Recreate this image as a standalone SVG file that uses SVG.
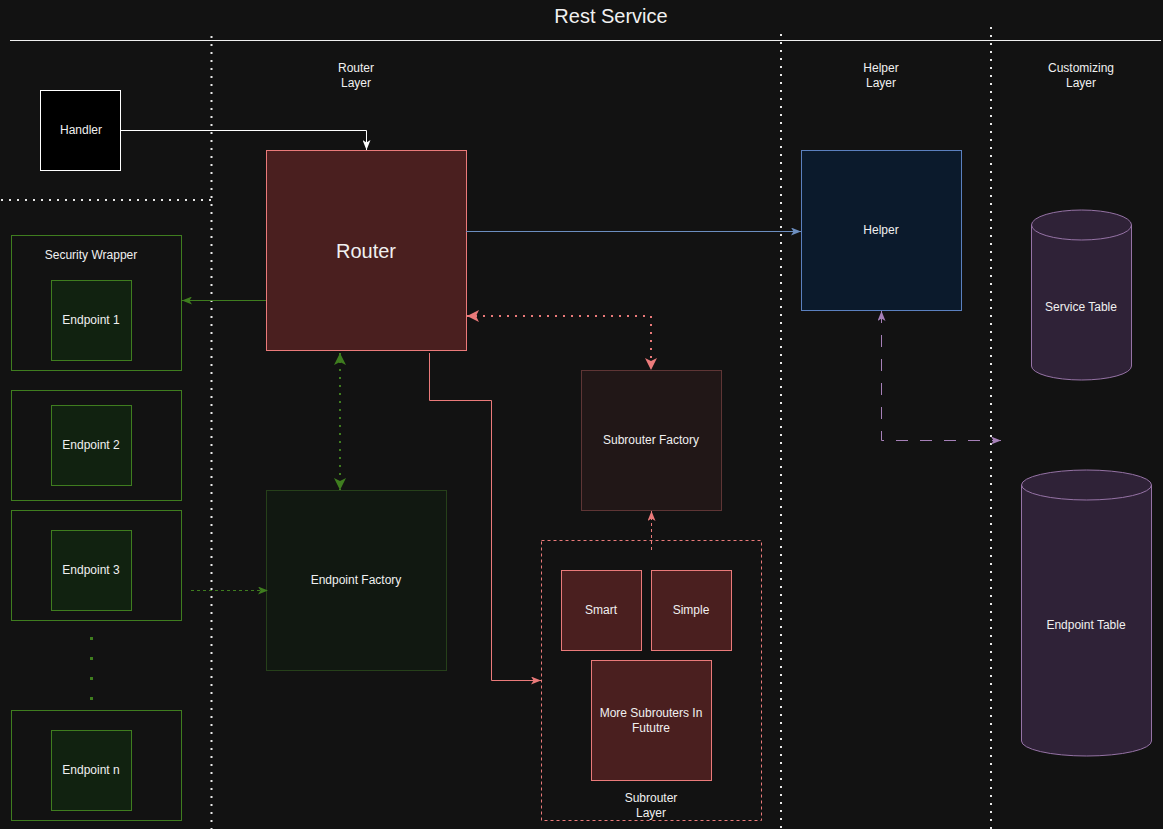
<svg xmlns="http://www.w3.org/2000/svg" width="1163" height="829" viewBox="0 0 1163 829">
<defs>
<style>
text{font-family:"Liberation Sans",Arial,sans-serif;font-size:12px;fill:#f0f0f0;text-anchor:middle;dominant-baseline:central}
.sep{stroke:#e8e8e8;stroke-width:2;stroke-dasharray:2 6;fill:none}
.wrap{fill:none;stroke:#3f7d1f}
.ep{fill:#112210;stroke:#3f7d1f}
.sub{fill:#4a1f1f;stroke:#ea7a7a}
.conn{fill:none}
</style>
<marker id="aw" viewBox="0 0 10 8" refX="10" refY="4" markerWidth="10" markerHeight="8" markerUnits="userSpaceOnUse" orient="auto-start-reverse"><path d="M0,0 L10,4 L0,8 L2.5,4 z" fill="#ffffff"/></marker>
<marker id="ab" viewBox="0 0 10 8" refX="10" refY="4" markerWidth="10" markerHeight="8" markerUnits="userSpaceOnUse" orient="auto-start-reverse"><path d="M0,0 L10,4 L0,8 L2.5,4 z" fill="#6c8ebf"/></marker>
<marker id="ag" viewBox="0 0 10 8" refX="10" refY="4" markerWidth="10" markerHeight="8" markerUnits="userSpaceOnUse" orient="auto-start-reverse"><path d="M0,0 L10,4 L0,8 L2.5,4 z" fill="#3f7d1f"/></marker>
<marker id="agb" viewBox="0 0 12 12" refX="12" refY="6" markerWidth="12" markerHeight="12" markerUnits="userSpaceOnUse" orient="auto-start-reverse"><path d="M0,0 L12,6 L0,12 L3,6 z" fill="#3f7d1f"/></marker>
<marker id="as" viewBox="0 0 10 8" refX="10" refY="4" markerWidth="10" markerHeight="8" markerUnits="userSpaceOnUse" orient="auto-start-reverse"><path d="M0,0 L10,4 L0,8 L2.5,4 z" fill="#ea7a7a"/></marker>
<marker id="asb" viewBox="0 0 12 12" refX="12" refY="6" markerWidth="12" markerHeight="12" markerUnits="userSpaceOnUse" orient="auto-start-reverse"><path d="M0,0 L12,6 L0,12 L3,6 z" fill="#ea7a7a"/></marker>
<marker id="ap" viewBox="0 0 10 8" refX="10" refY="4" markerWidth="10" markerHeight="8" markerUnits="userSpaceOnUse" orient="auto-start-reverse"><path d="M0,0 L10,4 L0,8 L2.5,4 z" fill="#a680b8"/></marker>
</defs>
<rect x="0" y="0" width="1163" height="829" fill="#121212"/>

<g id="title">
<text x="611" y="16" style="font-size:20px">Rest Service</text>
<line x1="10" y1="40.5" x2="1161" y2="40.5" stroke="#f0f0f0" stroke-width="1"/>
</g>

<g id="separators">
<line class="sep" x1="211.5" y1="36" x2="211.5" y2="829"/>
<line class="sep" x1="781" y1="34" x2="781" y2="829"/>
<line class="sep" x1="991" y1="27" x2="991" y2="829"/>
<line class="sep" x1="1" y1="200" x2="211" y2="200"/>
</g>

<g id="layer-labels">
<text x="356" y="68">Router</text><text x="356" y="83">Layer</text>
<text x="881" y="68">Helper</text><text x="881" y="83">Layer</text>
<text x="1081" y="68">Customizing</text><text x="1081" y="83">Layer</text>
</g>

<g id="handler">
<rect x="40.5" y="90.5" width="80" height="80" fill="#000000" stroke="#ffffff"/>
<text x="81" y="130">Handler</text>
</g>

<g id="router">
<rect x="266.5" y="150.5" width="200" height="200" fill="#4a1f1f" stroke="#ea7a7a"/>
<text x="366" y="251" style="font-size:20px">Router</text>
</g>

<g id="helper">
<rect x="801.5" y="150.5" width="160" height="160" fill="#0b1a2c" stroke="#5b80bf"/>
<text x="881" y="230">Helper</text>
</g>

<g id="security-wrapper">
<rect class="wrap" x="11.5" y="235.5" width="170" height="135"/>
<text x="91" y="255">Security Wrapper</text>
</g>
<g id="endpoint-1">
<rect class="ep" x="51.5" y="280.5" width="80" height="80"/>
<text x="91" y="320">Endpoint 1</text>
</g>
<g id="wrapper-2"><rect class="wrap" x="11.5" y="390.5" width="170" height="110"/></g>
<g id="endpoint-2">
<rect class="ep" x="51.5" y="405.5" width="80" height="80"/>
<text x="91" y="445">Endpoint 2</text>
</g>
<g id="wrapper-3"><rect class="wrap" x="11.5" y="510.5" width="170" height="110"/></g>
<g id="endpoint-3">
<rect class="ep" x="51.5" y="530.5" width="80" height="80"/>
<text x="91" y="570">Endpoint 3</text>
</g>
<g id="ellipsis">
<rect x="90" y="637" width="3" height="3" fill="#3f7d1f"/>
<rect x="90" y="657" width="3" height="3" fill="#3f7d1f"/>
<rect x="90" y="677" width="3" height="3" fill="#3f7d1f"/>
<rect x="90" y="697" width="3" height="3" fill="#3f7d1f"/>
</g>
<g id="wrapper-n"><rect class="wrap" x="11.5" y="710.5" width="170" height="110"/></g>
<g id="endpoint-n">
<rect class="ep" x="51.5" y="730.5" width="80" height="80"/>
<text x="91" y="770">Endpoint n</text>
</g>

<g id="endpoint-factory">
<rect x="266.5" y="490.5" width="180" height="180" fill="#111811" stroke="#26401a"/>
<text x="356" y="580">Endpoint Factory</text>
</g>

<g id="subrouter-factory">
<rect x="581.5" y="370.5" width="140" height="140" fill="#211717" stroke="#5e3535"/>
<text x="651" y="440">Subrouter Factory</text>
</g>

<g id="subrouter-layer">
<rect x="541.5" y="540.5" width="220" height="280" fill="none" stroke="#ea7a7a" stroke-dasharray="3 3"/>
<text x="651" y="798">Subrouter</text><text x="651" y="813">Layer</text>
</g>
<g id="smart">
<rect class="sub" x="561.5" y="570.5" width="80" height="80"/>
<text x="601" y="610">Smart</text>
</g>
<g id="simple">
<rect class="sub" x="651.5" y="570.5" width="80" height="80"/>
<text x="691" y="610">Simple</text>
</g>
<g id="more-subrouters">
<rect class="sub" x="591.5" y="660.5" width="120" height="120"/>
<text x="651" y="713">More Subrouters In</text><text x="651" y="728">Fututre</text>
</g>

<g id="service-table">
<path d="M1031.5,225 A50,15 0 0 1 1131.5,225 L1131.5,366 A50,14 0 0 1 1031.5,366 Z" fill="#2f2237" stroke="#9673a6"/>
<path d="M1031.5,225 A50,15 0 0 0 1131.5,225" fill="none" stroke="#9673a6"/>
<text x="1081" y="307">Service Table</text>
</g>

<g id="endpoint-table">
<path d="M1021.5,485 A65,15 0 0 1 1151.5,485 L1151.5,741 A65,15 0 0 1 1021.5,741 Z" fill="#2f2237" stroke="#9673a6"/>
<path d="M1021.5,485 A65,15 0 0 0 1151.5,485" fill="none" stroke="#9673a6"/>
<text x="1086" y="625">Endpoint Table</text>
</g>

<g id="connectors" class="conn">
<path d="M121,130.5 H366.5 V150" fill="none" stroke="#ffffff" marker-end="url(#aw)"/>
<path d="M466,231.5 H801" fill="none" stroke="#6c8ebf" marker-end="url(#ab)"/>
<path d="M266,300.5 H182" fill="none" stroke="#3f7d1f" marker-end="url(#ag)"/>
<path d="M340,353 V490" fill="none" stroke="#3f7d1f" stroke-width="2" stroke-dasharray="2 6" marker-start="url(#agb)" marker-end="url(#agb)"/>
<path d="M191,590.5 H268" fill="none" stroke="#3f7d1f" stroke-dasharray="3 3" marker-end="url(#ag)"/>
<path d="M429.5,353 V400.5 H491.5 V680.5 H541" fill="none" stroke="#ea7a7a" marker-end="url(#as)"/>
<path d="M467,316 H651 V370" fill="none" stroke="#ea7a7a" stroke-width="2" stroke-dasharray="2 6" marker-start="url(#asb)" marker-end="url(#asb)"/>
<path d="M651.5,550 V511" fill="none" stroke="#ea7a7a" stroke-dasharray="3 3" marker-end="url(#as)"/>
<path d="M881.5,311 V440.5 H1001" fill="none" stroke="#a680b8" stroke-dasharray="12 12" marker-start="url(#ap)" marker-end="url(#ap)"/>
</g>
</svg>
